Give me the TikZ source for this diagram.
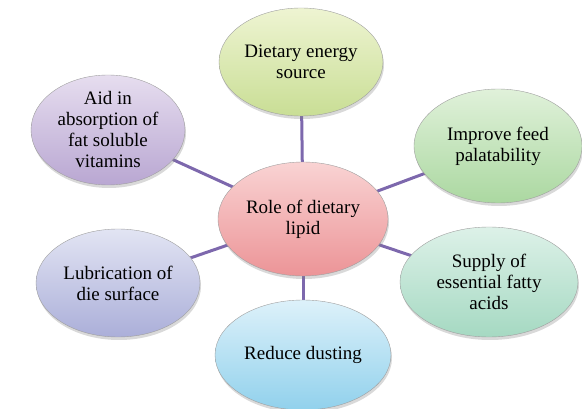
\documentclass[tikz,border=0pt]{standalone}
\usepackage{fontspec}
\setmainfont{Liberation Serif}
\usetikzlibrary{shapes.geometric, shadows, backgrounds}

\definecolor{spokecol}{HTML}{7D68AD}
\definecolor{pinkA}{HTML}{F9D3D3}
\definecolor{pinkB}{HTML}{EC9497}
\definecolor{lemonA}{HTML}{EEF4D2}
\definecolor{lemonB}{HTML}{C9DE95}
\definecolor{lilacA}{HTML}{E6DDEF}
\definecolor{lilacB}{HTML}{B9A7D2}
\definecolor{leafA}{HTML}{E0F1DA}
\definecolor{leafB}{HTML}{ABD8A1}
\definecolor{mintA}{HTML}{DDF1E8}
\definecolor{mintB}{HTML}{A5D9C2}
\definecolor{periA}{HTML}{E2E4F3}
\definecolor{periB}{HTML}{ABAFD9}
\definecolor{skyA}{HTML}{DDF1FA}
\definecolor{skyB}{HTML}{91D1EC}

\tikzset{
    bubble/.style={ellipse, draw=gray!75, thin, inner sep=0pt, align=center,
        font=\fontsize{19}{21}\selectfont,
        drop shadow={opacity=0.3, shadow xshift=1pt, shadow yshift=-3pt}},
    spoke/.style={line width=3pt, spokecol}
}

\begin{document}
\begin{tikzpicture}[x=1pt, y=-1pt]
    \useasboundingbox (0,0) rectangle (582,409);
    % hub
    \node[bubble, minimum width=170pt, minimum height=114pt, top color=pinkA, bottom color=pinkB] (lipid) at (303,219) {Role of dietary\\lipid};
    % roles
    \node[bubble, minimum width=164pt, minimum height=108pt, top color=lemonA, bottom color=lemonB] (energy) at (301,62) {Dietary energy\\source};
    \node[bubble, minimum width=154pt, minimum height=110pt, top color=lilacA, bottom color=lilacB] (absorb) at (108,130) {Aid in\\absorption of\\fat soluble\\vitamins};
    \node[bubble, minimum width=168pt, minimum height=114pt, top color=leafA, bottom color=leafB] (feed) at (498,146) {Improve feed\\palatability};
    \node[bubble, minimum width=178pt, minimum height=110pt, top color=mintA, bottom color=mintB] (fatty) at (489,282) {Supply of\\essential fatty\\acids};
    \node[bubble, minimum width=164pt, minimum height=108pt, top color=periA, bottom color=periB] (die) at (118,283) {Lubrication of\\die surface};
    \node[bubble, minimum width=176pt, minimum height=110pt, top color=skyA, bottom color=skyB] (dust) at (303,355) {Reduce dusting};
    \begin{scope}[on background layer]
        \foreach \n in {energy, absorb, feed, fatty, die, dust}
            \draw[spoke] (lipid.center) -- (\n.center);
    \end{scope}
\end{tikzpicture}
\end{document}
